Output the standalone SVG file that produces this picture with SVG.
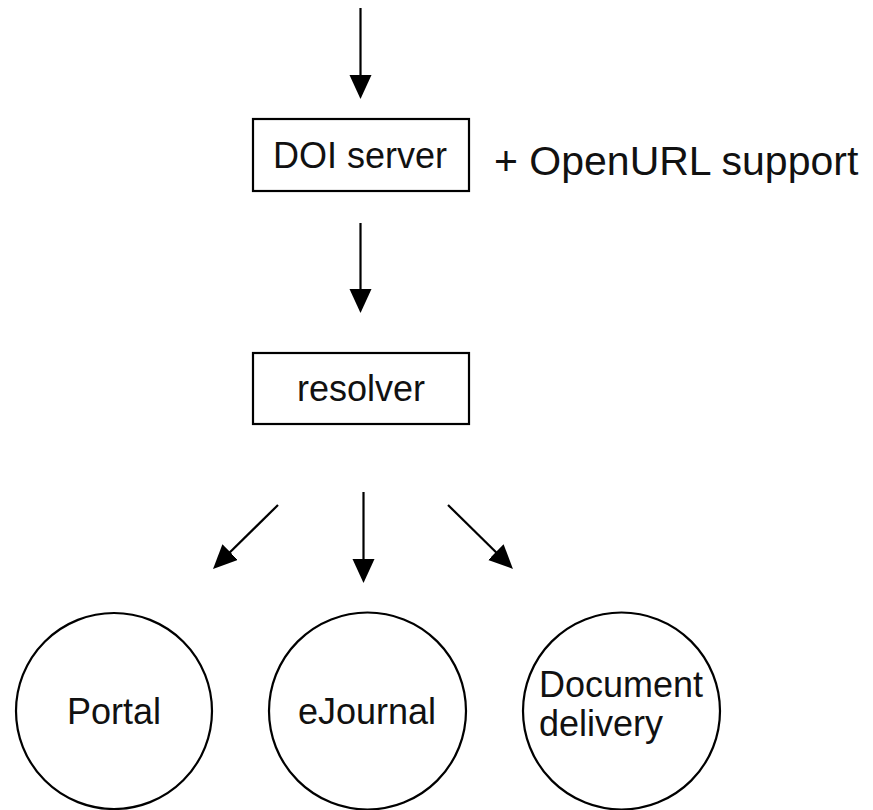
<svg xmlns="http://www.w3.org/2000/svg" width="873" height="810" viewBox="0 0 873 810">
<style>
.box{fill:#fff;stroke:#000;stroke-width:2.2}
.node{fill:#fff;stroke:#000;stroke-width:2.2}
.lbl{font-family:"Liberation Sans",Arial,sans-serif;font-size:36px;fill:#111}
.big{font-family:"Liberation Sans",Arial,sans-serif;font-size:41px;fill:#111}
.conn{stroke:#000;stroke-width:2.2;fill:none;marker-end:url(#ah)}
</style>
<defs>
<marker id="ah" markerUnits="userSpaceOnUse" markerWidth="25" markerHeight="23" refX="11" refY="11" orient="auto">
<path d="M0,0 L24,11 L0,22 z" fill="#000"/>
</marker>
</defs>
<rect width="873" height="810" fill="#fff"/>
<g id="connectors">
<line class="conn" x1="360.5" y1="8" x2="360.5" y2="86"/>
<line class="conn" x1="360.5" y1="223" x2="360.5" y2="300"/>
<line class="conn" x1="278" y1="505" x2="222.3" y2="559.8"/>
<line class="conn" x1="363.5" y1="492" x2="363.5" y2="570"/>
<line class="conn" x1="448" y1="505" x2="503.7" y2="559.8"/>
</g>
<g id="doi-server">
<rect class="box" x="253" y="119" width="216" height="72"/>
<text class="lbl" x="360" y="168" text-anchor="middle">DOI server</text>
</g>
<g id="openurl-note">
<text class="big" x="494" y="175">+ OpenURL support</text>
</g>
<g id="resolver">
<rect class="box" x="253" y="353" width="216" height="71"/>
<text class="lbl" x="361" y="401" text-anchor="middle">resolver</text>
</g>
<g id="portal">
<circle class="node" cx="114" cy="711" r="98"/>
<text class="lbl" x="114" y="724" text-anchor="middle">Portal</text>
</g>
<g id="ejournal">
<circle class="node" cx="367.5" cy="711" r="98.5"/>
<text class="lbl" x="367" y="724" text-anchor="middle">eJournal</text>
</g>
<g id="document-delivery">
<circle class="node" cx="621.5" cy="711" r="98.5"/>
<text class="lbl" x="539" y="697">Document</text>
<text class="lbl" x="539" y="736">delivery</text>
</g>
</svg>
